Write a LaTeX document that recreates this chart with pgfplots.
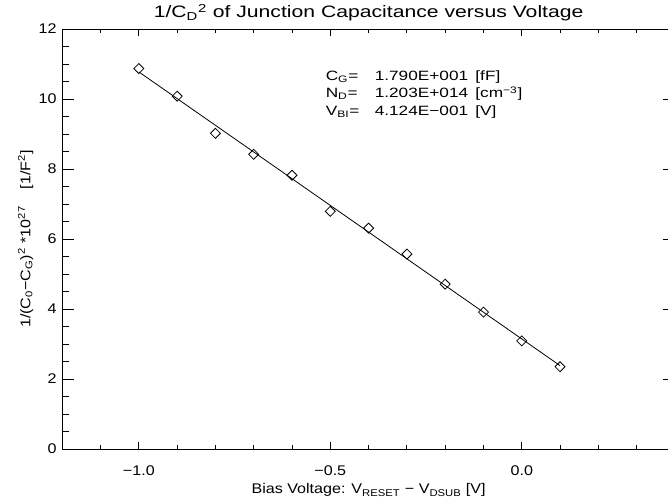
\documentclass[border=0pt]{standalone}
\usepackage{fontspec}
\setmainfont{Liberation Sans}[FakeStretch=1.15]
\newfontfamily\wide{Liberation Sans}[FakeStretch=1.28]
\usepackage{pgfplots}
\pgfplotsset{compat=1.18}
\begin{document}
\begin{tikzpicture}
\begin{axis}[
  scale only axis, width=459.5pt, height=315pt,
  xmin=-1.2, xmax=0.4, ymin=0, ymax=12,
  xtick={-1,-0.5,0}, xticklabels={−1.0,−0.5,0.0},
  minor xtick={-1.1,-0.9,-0.8,-0.7,-0.6,-0.4,-0.3,-0.2,-0.1,0.1,0.2,0.3},
  ytick={0,2,4,6,8,10,12}, minor y tick num=3,
  tick align=inside,
  axis line style={line width=0.6pt},
  every tick/.style={black, line width=0.6pt},
  major tick length=9pt, minor tick length=5pt,
  xtick style={/pgfplots/major tick length=5.5pt,/pgfplots/minor tick length=3pt},
  ticklabel style={font=\fontsize{10.5}{12}\selectfont},
  /pgf/number format/assume math mode=true,
  xticklabel style={anchor=base, yshift=-20pt},
  yticklabel style={xshift=-0.7pt},
  clip=false,
]
\coordinate (bl) at (rel axis cs:0,0);
\addplot[no marks, line width=0.6pt] coordinates {(-1.0,10.774) (0.1,2.382)};
\addplot[only marks, mark=square, mark size=2.65pt, mark options={rotate=45, line width=0.6pt}] coordinates {
  (-1.0,10.87) (-0.9,10.08) (-0.8,9.02) (-0.7,8.42) (-0.6,7.82) (-0.5,6.79)
  (-0.4,6.31) (-0.3,5.57) (-0.2,4.71) (-0.1,3.91) (0.0,3.09) (0.1,2.35)};
\node[anchor=base, font=\wide\fontsize{12.4}{14}\selectfont] at (rel axis cs:0.5,1.0262)
  {1/C\textsubscript{D}\textsuperscript{2} of Junction Capacitance versus Voltage};
\node[anchor=base, font=\fontsize{10.5}{12}\selectfont] at (rel axis cs:0.5,-0.1071)
  {Bias Voltage: V\textsubscript{RESET} − V\textsubscript{DSUB} [V]};
\node[rotate=90, anchor=base, font=\fontsize{10.5}{12}\selectfont] at (rel axis cs:-0.0522,0.5)
  {1/(C\textsubscript{0}−C\textsubscript{G})\textsuperscript{2} *10\textsuperscript{27}\hspace{1.2em}[1/F\textsuperscript{2}]};
\begin{scope}[every node/.style={anchor=base west, font=\wide\fontsize{10.1}{13}\selectfont, inner sep=0pt}]
\node at (axis cs:-0.5125,10.52) {C\textsubscript{G}=};
\node at (axis cs:-0.3846,10.52) {1.790E+001};
\node at (axis cs:-0.1217,10.52) {[fF]};
\node at (axis cs:-0.5125,10.03) {N\textsubscript{D}=};
\node at (axis cs:-0.3846,10.03) {1.203E+014};
\node at (axis cs:-0.1217,10.03) {[cm\textsuperscript{−3}]};
\node at (axis cs:-0.5125,9.54) {V\textsubscript{BI}=};
\node at (axis cs:-0.3846,9.54) {4.124E−001};
\node at (axis cs:-0.1217,9.54) {[V]};
\end{scope}
\end{axis}
\pgfresetboundingbox
\path[use as bounding box] ([shift={(-46.7pt,-37.5pt)}]bl) rectangle ([shift={(454.3pt,336.75pt)}]bl);
\end{tikzpicture}
\end{document}
